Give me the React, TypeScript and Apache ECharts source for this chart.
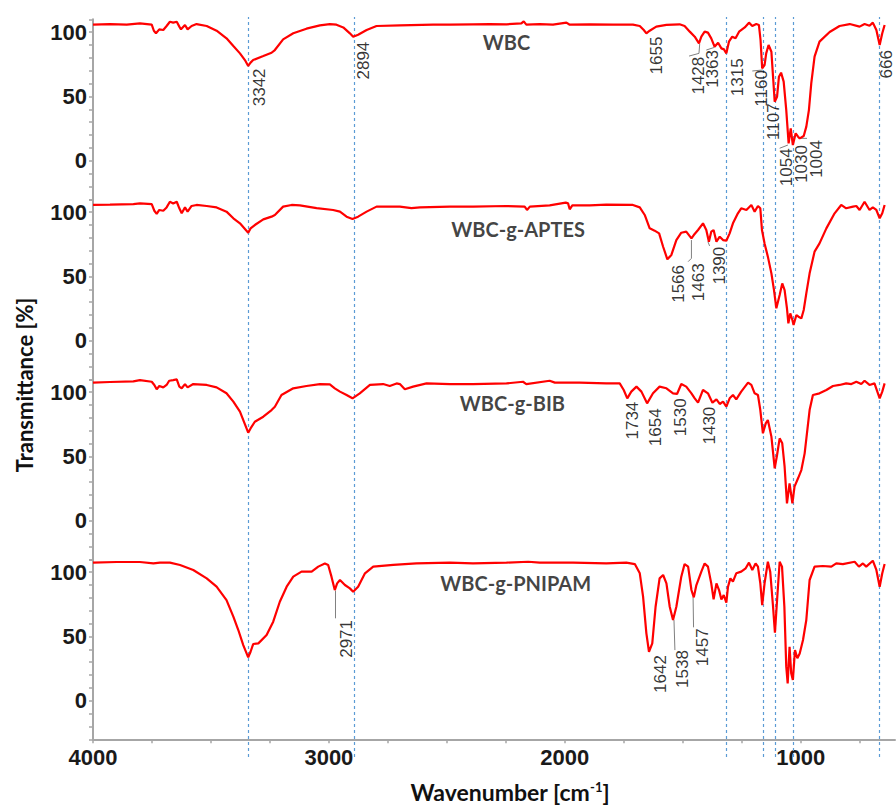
import React, { useEffect, useRef } from 'react';
import * as echarts from 'echarts';

type P = [number, number];

const wbc: P[] = [[4000,105.8],[3928,106.3],[3857,105.8],[3801,106.8],[3751,105.8],[3742,101.1],[3733,99.1],[3719,102.2],[3702,101.7],[3688,104.8],[3674,108.1],[3660,107.4],[3645,108.1],[3634,104.3],[3627,102.2],[3610,105.6],[3599,102.2],[3582,104.8],[3561,106.3],[3518,104.8],[3476,101.1],[3434,95.2],[3405,89.2],[3377,83.5],[3356,78.3],[3342,73.7],[3332,76.3],[3321,78.3],[3278,81.4],[3243,84],[3229,86.1],[3194,94.4],[3151,99.1],[3095,102.7],[3038,105.3],[2996,106.3],[2968,105.8],[2939,103.7],[2911,99.1],[2897,96.5],[2876,98],[2840,101.7],[2798,104.8],[2699,105.3],[2558,105.8],[2487,105.8],
[2389,106.1],[2318,106.3],[2247,106.1],[2184,106.8],[2174,108.4],[2163,105.8],[2106,106.3],[2050,105.8],[1993,107.4],[1979,105.8],[1894,106.1],[1795,105.8],[1711,105.8],[1682,104.8],[1665,101.7],[1654,99.1],[1640,101.1],[1612,104.3],[1569,105.6],[1513,106.1],[1492,104.8],[1470,100.4],[1449,96.5],[1431,91.3],[1421,96.5],[1407,100.4],[1393,99.6],[1379,95.2],[1365,88.7],[1350,91.8],[1336,87.4],[1325,86.6],[1315,83.5],[1304,92.6],[1290,96.5],[1276,95.2],[1261,100.4],[1237,103.7],[1219,107.4],[1205,104.8],[1188,106.3],[1177,105.6],[1170,93.9],[1163,71.8],[1153,74.4],[1146,83.5],[1136,90],[1124,84.8],[1117,65.4],[1110,45.9],[1100,49.8],[1092,65.4],[1083,68.5],[1072,61.5],[1061,39.4],[1051,13.5],[1042,25.2],[1033,12.2],[1021,21.3],[1011,18.7],[1004,17.4],[987,19.2],[976,26.5],[965,39.4],[955,60.2],[941,80.9],[920,92.6],[877,100.1],[835,104.8],[792,106.3],[750,104.3],[729,106.3],[708,105],[694,107.4],[679,101.7],[665,90],[654,99.1],[644,105.6]];

const wbcAptes: P[] = [[4000,105.6],[3928,105.8],[3829,106.3],[3801,106.8],[3751,106.3],[3740,101.1],[3730,98.6],[3719,101.7],[3702,101.1],[3688,103.7],[3674,108.1],[3660,106.8],[3645,108.1],[3634,103],[3624,99.1],[3610,103.7],[3599,100.4],[3582,104.8],[3561,105.6],[3518,104.8],[3476,103.7],[3434,100.4],[3405,95.2],[3377,91.3],[3342,84],[3332,87.4],[3314,90],[3278,94.4],[3243,96.5],[3229,97.8],[3194,104.3],[3158,105.6],[3123,105.3],[3052,103.2],[2982,101.7],[2953,100.4],[2925,96.5],[2900,94.7],[2876,96.5],[2840,100.4],[2798,104.3],[2699,104.3],[2650,103.2],[2614,103.7],[2487,104.3],
[2389,104.3],[2247,104.8],[2170,104.3],[2160,101.7],[2148,104.3],[2064,105.3],[1996,107.4],[1986,106.8],[1979,102.2],[1968,105.3],[1894,105.3],[1824,105.8],[1711,105.6],[1682,103.7],[1661,97.8],[1640,87.4],[1619,85.6],[1600,83.5],[1583,73.1],[1565,63.3],[1548,66.7],[1527,78.3],[1506,84],[1485,84.8],[1463,79.6],[1453,82.2],[1435,86.1],[1414,91.3],[1400,86.1],[1389,77],[1379,84.8],[1369,86.1],[1357,77],[1343,80.9],[1329,78.3],[1315,77.8],[1301,83.5],[1287,91.3],[1266,99.1],[1252,103],[1230,101.7],[1209,105.6],[1195,100.4],[1181,104.8],[1171,103],[1164,86.1],[1153,75.7],[1139,65.4],[1124,52.4],[1113,39.4],[1103,25.2],[1089,35.5],[1078,44.6],[1068,39.4],[1058,25.2],[1052,13.5],[1044,21.3],[1035,16.1],[1030,12.2],[1018,20],[1009,18.7],[997,17.4],[987,23.9],[976,36.8],[962,52.4],[941,69.3],[920,75.7],[891,87.4],[856,99.1],[828,105.6],[807,103],[778,104.3],[764,104.8],[750,101.7],[729,108.1],[708,101.7],[694,103.7],[679,101.7],[665,95.2],[654,99.1],[644,105.6]];

const wbcBib: P[] = [[4000,107.4],[3928,107.9],[3829,108.4],[3801,109.4],[3751,108.1],[3740,105.6],[3730,102.2],[3719,104.8],[3702,103.7],[3688,105.6],[3677,108.9],[3660,109.4],[3645,109.9],[3634,104.3],[3624,103],[3610,106.3],[3599,103.7],[3575,106.3],[3518,105.6],[3476,103.7],[3434,99.1],[3405,92.6],[3377,84.8],[3342,68.5],[3332,71.8],[3314,77],[3278,80.9],[3243,86.1],[3229,88.7],[3201,97.8],[3151,103],[3095,104.8],[3038,106.3],[2996,106.1],[2975,103],[2953,100.4],[2925,97.8],[2900,95.2],[2869,99.1],[2826,105.6],[2770,106.3],[2742,104.8],[2713,106.8],[2699,106.3],[2678,102.2],[2643,104.3],[2586,106.8],[2487,106.3],
[2389,106.3],[2247,106.8],[2177,108.1],[2163,106.3],[2064,108.9],[2042,107.4],[1937,107.4],[1824,106.8],[1767,106.8],[1750,101.7],[1735,95.2],[1718,100.4],[1696,104.3],[1675,100.4],[1651,91.3],[1626,99.1],[1598,104.3],[1569,103],[1541,99.1],[1524,98.6],[1506,106.3],[1485,104.3],[1463,99.1],[1449,95.2],[1435,91.8],[1414,101.7],[1393,99.1],[1374,91.8],[1357,94.4],[1343,90.8],[1329,92.6],[1315,88.7],[1301,95.2],[1287,97.8],[1273,94.4],[1252,100.4],[1223,107.4],[1209,105.6],[1195,99.1],[1181,97.8],[1171,86.1],[1160,68],[1148,75.7],[1139,78.3],[1124,65.4],[1110,40.7],[1100,51.1],[1089,64.1],[1078,60.2],[1068,42],[1058,13.5],[1047,29.1],[1035,13.5],[1026,26.5],[1011,33],[997,39.4],[983,52.4],[962,86.1],[948,97.8],[920,99.1],[891,101.7],[863,104.8],[835,105.6],[807,106.8],[785,106.3],[764,108.1],[743,106.3],[729,108.9],[708,105.6],[687,106.8],[665,95.2],[654,100.4],[644,106.8]];

const wbcPnipam: P[] = [[4000,107.4],[3900,107.9],[3801,107.9],[3744,106.8],[3716,107.4],[3674,107.4],[3631,105.6],[3575,101.7],[3518,95.2],[3476,88.7],[3434,78.3],[3405,65.4],[3384,55],[3363,43.3],[3342,33.7],[3332,38.1],[3321,44.1],[3299,44.6],[3264,51.1],[3236,61.5],[3208,77],[3179,88.7],[3151,96.5],[3116,100.4],[3073,100.4],[3045,104.3],[3017,106.8],[3003,105.6],[2989,96.5],[2975,86.1],[2965,91.3],[2953,93.9],[2932,90],[2911,87.4],[2897,84.8],[2876,88.7],[2847,99.1],[2812,104.3],[2727,105.6],[2629,106.8],[2487,107.4],
[2389,106.8],[2247,107.4],[2155,108.1],[2106,107.4],[1965,107.4],[1824,106.8],[1739,107.4],[1703,106.3],[1682,99.1],[1668,80.9],[1654,52.4],[1643,38.1],[1629,44.6],[1615,73.1],[1598,95.2],[1583,97.8],[1569,91.3],[1555,73.1],[1541,62.8],[1527,73.1],[1506,96.5],[1492,106.3],[1477,104.3],[1463,86.1],[1453,80.4],[1442,90],[1421,100.4],[1407,106.8],[1393,104.3],[1379,91.3],[1369,78.8],[1357,91.3],[1346,86.1],[1336,78.8],[1326,82.2],[1315,76.3],[1308,88.7],[1298,95.2],[1287,92.6],[1273,99.1],[1252,100.4],[1233,103],[1219,107.4],[1205,101.7],[1191,106.8],[1181,104.3],[1171,91.3],[1163,74.4],[1153,91.3],[1139,108.1],[1129,100.4],[1117,73.1],[1109,52.9],[1099,80.9],[1089,108.1],[1079,104.3],[1069,73.1],[1061,26.5],[1055,13.5],[1047,42],[1040,21.3],[1033,16.1],[1024,39.4],[1014,33],[1004,36.8],[990,47.2],[976,62.8],[962,93.9],[941,104.3],[906,104.8],[870,104.3],[849,106.8],[821,106.3],[771,108.1],[753,104.3],[736,106.8],[722,104.3],[694,108.9],[679,101.7],[665,88.7],[654,99.1],[644,106.3]];

const spectra: P[][] = [wbc, wbcAptes, wbcBib, wbcPnipam];
const sampleNames = ['WBC', 'WBC-g-APTES', 'WBC-g-BIB', 'WBC-g-PNIPAM'];
const sampleNameAt: P[] = [[2247, 92.1], [2198, 86.9], [2222, 91.3], [2208, 91.8]];

type Peak = { name: string; at: P };
const peaksWbc: Peak[] = [
  { name: '3342', at: [3295, 71.8] }, { name: '2894', at: [2855, 92.6] },
  { name: '1655', at: [1612, 96.5] }, { name: '1428', at: [1435, 80.9] },
  { name: '1363', at: [1372, 86.1] }, { name: '1315', at: [1268, 79.6] },
  { name: '1160', at: [1167, 70.5] }, { name: '1107', at: [1117, 44.6] },
  { name: '1054', at: [1059, 9.6] }, { name: '1030', at: [996, 12.2] },
  { name: '1004', at: [932, 16.1] }, { name: '666', at: [634, 86.1] },
];
const peaksAptes: Peak[] = [
  { name: '1566', at: [1516, 58.9] }, { name: '1463', at: [1435, 60.2] }, { name: '1390', at: [1343, 73.1] },
];
const peaksBib: Peak[] = [
  { name: '1734', at: [1713, 92.6] }, { name: '1654', at: [1615, 87.4] },
  { name: '1530', at: [1510, 95.2] }, { name: '1430', at: [1386, 88.7] },
];
const peaksPnipam: Peak[] = [
  { name: '2971', at: [2925, 62.8] }, { name: '1642', at: [1595, 35.5] },
  { name: '1538', at: [1499, 39.4] }, { name: '1457', at: [1414, 56.3] },
];
const peakSets: Peak[][] = [peaksWbc, peaksAptes, peaksBib, peaksPnipam];

const leadersWbc: P[][] = [
  [[1473, 81.4], [1431, 83.5], [1428, 90.8]], [[1400, 86.1], [1365, 88.2]],
  [[1205, 69.8], [1160, 70.6]], [[1089, 9.7], [1054, 12.2]], [[1004, 17.4], [973, 17.4]],
];
const leadersAptes: P[][] = [[[1463, 78.3], [1463, 64.1], [1477, 61.5]], [[1393, 77], [1386, 73.7]]];
const leadersBib: P[][] = [];
const leadersPnipam: P[][] = [[[2972, 85.6], [2972, 64.1]], [[1537, 62.8], [1533, 39.4]], [[1456, 80.4], [1454, 57.1]]];
const leaderSets: P[][][] = [leadersWbc, leadersAptes, leadersBib, leadersPnipam];

const markedBands = [3342, 2894, 1315, 1160, 1107, 1030, 666];
const xLabelValues = [4000, 3000, 2000, 1000];
const xTickValues = [4000, 3750, 3500, 3250, 3000, 2750, 2500, 2250, 2000, 1750, 1500, 1250, 1000, 750];
const yLabelValues = [0, 50, 100];

const AXIS_GRAY = '#a6a6a6';
const LABEL_FONT = 'Liberation Sans, Arial, sans-serif';
const TITLE_FONT = 'Lato, Open Sans, sans-serif';

export default function App() {
  const ref = useRef<HTMLDivElement>(null);
  useEffect(() => {
    document.body.style.margin = '0';
    if (!ref.current) return;
    const chart = echarts.init(ref.current, undefined, { renderer: 'svg' });

    const grids: any[] = [0, 1, 2, 3].map((k) => ({ left: 93, right: 1, top: 19.3 + 180 * k, height: 180 }));
    grids.push({ left: 93, right: 1, top: 17, height: 740 });

    const xAxes: any[] = [0, 1, 2, 3, 4].map((k) => ({
      type: 'value', gridIndex: k, min: 600, max: 4000, inverse: true,
      show: k === 3,
      axisLine: { show: true, onZero: false, lineStyle: { color: AXIS_GRAY, width: 2 } },
      axisTick: { show: true, length: 4, customValues: xTickValues, lineStyle: { color: AXIS_GRAY, width: 1.5 } },
      axisLabel: {
        customValues: xLabelValues, margin: 7, fontSize: 22, fontWeight: 'bold',
        fontFamily: LABEL_FONT, color: '#1a1a1a', formatter: (v: number) => String(v),
      },
      splitLine: { show: false },
    }));

    const yAxes: any[] = [0, 1, 2, 3].map((k) => ({
      type: 'value', gridIndex: k, min: -30, max: 110, interval: 10,
      axisLine: { show: true, lineStyle: { color: AXIS_GRAY, width: 2 } },
      axisTick: { show: true, length: 4, lineStyle: { color: AXIS_GRAY, width: 1.5 } },
      axisLabel: {
        customValues: yLabelValues, margin: 6, fontSize: 22, fontWeight: 'bold',
        fontFamily: LABEL_FONT, color: '#1a1a1a', formatter: (v: number) => String(v),
      },
      splitLine: { show: false },
    }));
    yAxes.push({ type: 'value', gridIndex: 4, min: 0, max: 1, show: false });

    const series: any[] = [];
    series.push({
      type: 'lines', coordinateSystem: 'cartesian2d', xAxisIndex: 4, yAxisIndex: 4, z: 1,
      silent: true,
      lineStyle: { color: '#5b9bd5', width: 1.2, type: [3, 3], opacity: 1 },
      data: markedBands.map((w) => ({ coords: [[w, 0], [w, 1]] })),
    });
    spectra.forEach((d, k) => {
      series.push({
        type: 'line', name: sampleNames[k], xAxisIndex: k, yAxisIndex: k, data: d,
        symbol: 'none', showSymbol: false, clip: false, z: 3,
        lineStyle: { color: '#ff0000', width: 2.2 },
      });
      if (leaderSets[k].length) {
        series.push({
          type: 'lines', coordinateSystem: 'cartesian2d', xAxisIndex: k, yAxisIndex: k, z: 2,
          polyline: true, silent: true,
          lineStyle: { color: '#808080', width: 1, opacity: 1 },
          data: leaderSets[k].map((c) => ({ coords: c })),
        });
      }
      const items: any[] = peakSets[k].map((p) => ({ value: p.at, name: p.name }));
      items.push({
        value: sampleNameAt[k], name: sampleNames[k],
        label: { rotate: 0, align: 'center', verticalAlign: 'middle', fontFamily: TITLE_FONT, fontWeight: 'bold', fontSize: 20, color: '#111' },
      });
      series.push({
        type: 'scatter', xAxisIndex: k, yAxisIndex: k, z: 5, silent: true, clip: false,
        symbolSize: 0.1, itemStyle: { color: 'rgba(0,0,0,0)' },
        label: {
          show: true, position: 'inside', rotate: 90, align: 'right', verticalAlign: 'middle',
          formatter: '{b}', fontSize: 17, fontFamily: LABEL_FONT, color: '#000',
        },
        data: items,
      });
    });

    chart.setOption({
      animation: false,
      backgroundColor: '#ffffff',
      grid: grids,
      xAxis: xAxes,
      yAxis: yAxes,
      series,
      graphic: [
        {
          type: 'text', x: 24, y: 385, rotation: Math.PI / 2,
          style: {
            text: 'Transmittance [%]', fill: '#111', font: `bold 22px ${TITLE_FONT}`,
            align: 'center', verticalAlign: 'middle',
          },
        },
        {
          type: 'text', x: 510, y: 792,
          style: {
            text: '{a|Wavenumber [cm}{s|-1}{a|]}', fill: '#111', align: 'center', verticalAlign: 'middle',
            rich: {
              a: { fontFamily: TITLE_FONT, fontWeight: 'bold', fontSize: 23, fill: '#111', verticalAlign: 'bottom' },
              s: { fontFamily: TITLE_FONT, fontWeight: 'bold', fontSize: 13, fill: '#111', verticalAlign: 'top' },
            },
          },
        },
      ],
    });
    return () => chart.dispose();
  }, []);
  return <div ref={ref} style={{ width: 896, height: 806 }} />;
}
